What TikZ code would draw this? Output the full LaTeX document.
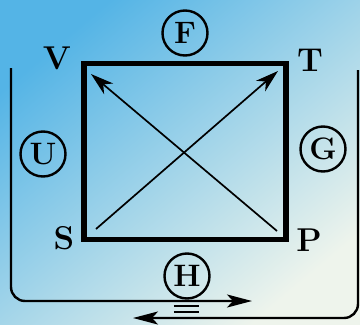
\documentclass[tikz,border=0pt]{standalone}
\usepackage{tikz}
\usetikzlibrary{arrows.meta}
\definecolor{skytop}{RGB}{84,180,230}
\definecolor{skymid}{RGB}{158,215,238}
\definecolor{skylow}{RGB}{238,244,236}
\tikzset{
  frame/.style  = {line width=5.5pt, black},
  ring/.style   = {circle, draw, line width=2.4pt, minimum size=45pt,
                   inner sep=0pt, font=\bfseries\fontsize{31}{31}\selectfont},
  corner/.style = {inner sep=0pt, font=\bfseries\fontsize{33}{33}\selectfont},
  diag/.style   = {line width=1.7pt, -{Stealth[length=23pt, width=14pt, inset=7pt]}},
  flow/.style   = {line width=2.4pt, rounded corners=14pt,
                   -{Stealth[length=25pt, width=13pt, inset=6pt]}},
  bar/.style    = {line width=2pt},
}
\begin{document}
\begin{tikzpicture}[x=1pt, y=-1pt]
    % sky background, darker to the upper left
    \shade[top color=skytop, middle color=skymid, bottom color=skylow,
           shading angle=40]
        (0,0) rectangle (360,325);
    \useasboundingbox (0,0) rectangle (360,325);

    \draw[frame] (84,63.5) rectangle (286,239.5);

    \node[corner] (V) at (57,58)  {V};
    \node[corner] (T) at (310,60) {T};
    \node[corner] (S) at (64,238) {S};
    \node[corner] (P) at (309,240) {P};

    \node[ring] (F) at (185,33)  {F};
    \node[ring] (U) at (43,154)  {U};
    \node[ring] (G) at (323,149) {G};
    \node[ring] (H) at (187,276) {H};

    \coordinate (s) at (96,229);
    \coordinate (t) at (278,71);
    \coordinate (p) at (277,231);
    \coordinate (v) at (91,74);
    \draw[diag] (s) -- (t);
    \draw[diag] (p) -- (v);

    % the two streams round the outside
    \coordinate (l0) at (11,68);
    \coordinate (l1) at (252,301);
    \coordinate (r0) at (358,70);
    \coordinate (r1) at (133,318);
    \draw[flow] (l0) |- (l1);
    \draw[flow] (r0) |- (r1);

    \draw[bar] (174,306) -- (199,306);
    \draw[bar] (174,312) -- (199,312);
\end{tikzpicture}
\end{document}
